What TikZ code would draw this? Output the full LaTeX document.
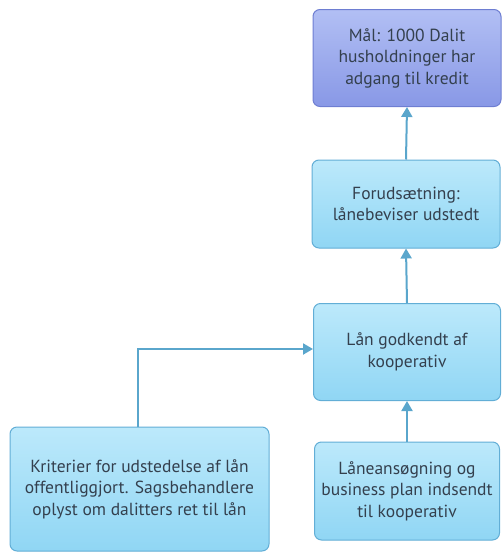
\documentclass[tikz,border=0pt]{standalone}
\usepackage{fontspec}
\setmainfont{PT Sans}
\usetikzlibrary{arrows.meta}
\definecolor{txt}{HTML}{34404E}
\definecolor{goaltop}{HTML}{B2BFF4}
\definecolor{goalbot}{HTML}{8898E6}
\definecolor{goaledge}{HTML}{6E7ED2}
\definecolor{stagetop}{HTML}{BCE9FB}
\definecolor{stagebot}{HTML}{90D6F4}
\definecolor{stageedge}{HTML}{62AED6}
\definecolor{link}{HTML}{5AA6CC}
\tikzset{
  box/.style={rounded corners=7pt, line width=1pt, text=txt, align=center,
    font=\fontsize{17.5}{21.5}\selectfont, inner sep=0pt},
  goalbox/.style={box, draw=goaledge, top color=goaltop, bottom color=goalbot},
  stagebox/.style={box, draw=stageedge, top color=stagetop, bottom color=stagebot},
  link/.style={draw=link, line width=2pt, -{Triangle[length=10pt,width=11pt]}},
}
\begin{document}
\begin{tikzpicture}[x=1pt,y=-1pt]
\useasboundingbox (0,0) rectangle (502,554);
% boxes (centre, width, height in pixel units)
\node[goalbox, minimum width=188pt, minimum height=97pt] (goal) at (407,58)
  {Mål: 1000 Dalit\\husholdninger har\\adgang til kredit};
\node[stagebox, minimum width=188pt, minimum height=88pt] (cert) at (406,204)
  {Forudsætning:\\lånebeviser udstedt};
\node[stagebox, minimum width=187pt, minimum height=97pt] (loan) at (407,352)
  {Lån godkendt af\\kooperativ};
\node[stagebox, minimum width=185pt, minimum height=98pt] (apply) at (407,491)
  {Låneansøgning og\\business plan indsendt\\til kooperativ};
\node[stagebox, minimum width=259pt, minimum height=124pt] (crit) at (139.5,489)
  {Kriterier for udstedelse af lån\\offentliggjort. Sagsbehandlere\\oplyst om dalitters ret til lån};
% connectors
\draw[link] (cert.north) -- (goal.south);
\draw[link] (loan.north) -- (cert.south);
\draw[link] (apply.north) -- (loan.south);
\draw[link] (crit.north -| 138,0) |- (loan.west |- 0,349);
\end{tikzpicture}
\end{document}
